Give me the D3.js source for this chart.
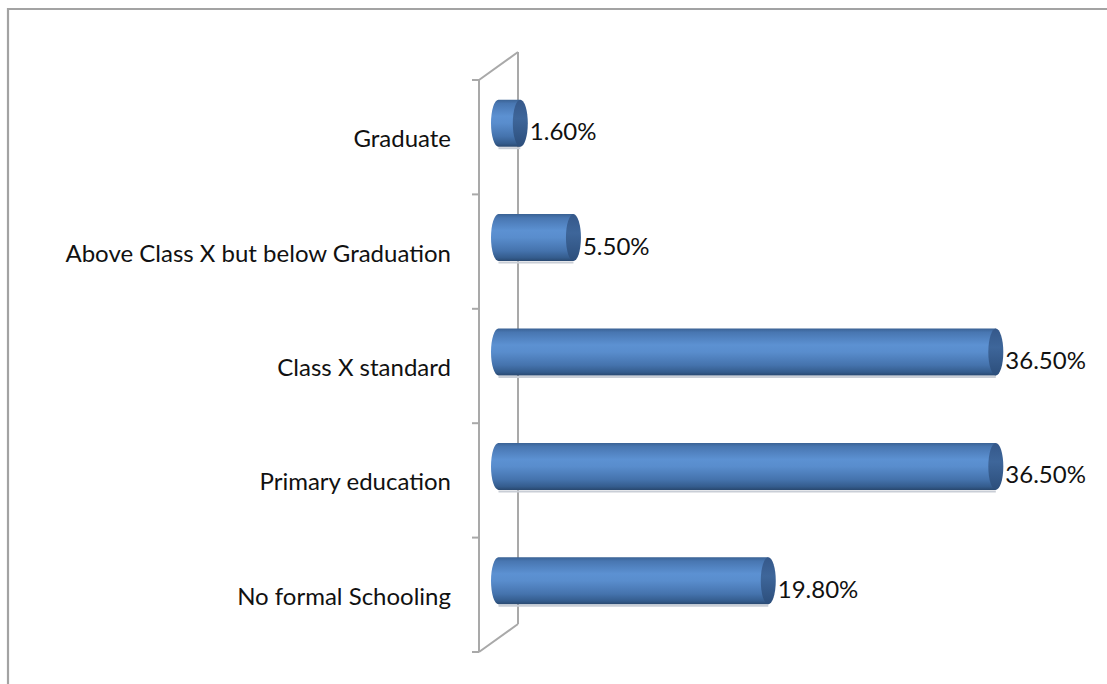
<!DOCTYPE html>
<html>
<head>
<meta charset="utf-8">
<script src="https://cdn.jsdelivr.net/npm/d3@7"></script>
<style>
  html, body { margin: 0; padding: 0; background: #ffffff; }
  svg { display: block; }
  text { font-family: Lato, "Open Sans", sans-serif; fill: #111; }
</style>
</head>
<body>
<svg id="chart" width="1107" height="684"></svg>
<script>
// Education levels, top to bottom
const categories = [
  "Graduate",
  "Above Class X but below Graduation",
  "Class X standard",
  "Primary education",
  "No formal Schooling"
];
// Share of respondents (%)
const values = [1.6, 5.5, 36.5, 36.5, 19.8];
const valueLabels = ["1.60%", "5.50%", "36.50%", "36.50%", "19.80%"];

const svg = d3.select("#chart");
const W = 1107, H = 684;
const fontSize = 24;

// Outer chart frame (top and left edges visible)
svg.append("path")
  .attr("d", `M8,${H + 5} L8,9 L${W + 5},9`)
  .attr("fill", "none")
  .attr("stroke", "#a3a3a3")
  .attr("stroke-width", 2.2);

// Plot geometry: front plane and depth offset of the 3D wall
const front = { x: 479, top: 80, bottom: 652 };
const depth = { dx: 39, dy: -28 };

const x = d3.scaleLinear().domain([0, 40]).range([front.x, front.x + 545]);
const y = d3.scaleBand().domain(categories).range([front.top, front.bottom]).padding(0);

const defs = svg.append("defs");
const bodyGrad = defs.append("linearGradient")
  .attr("id", "cylBody").attr("x1", 0).attr("y1", 0).attr("x2", 0).attr("y2", 1);
[[0, "#3a6294"], [0.08, "#4876b1"], [0.35, "#5c91d2"], [0.5, "#598dcd"],
 [0.78, "#4573ad"], [0.93, "#345c8d"], [1, "#29486f"]]
  .forEach(([o, c]) => bodyGrad.append("stop").attr("offset", o).attr("stop-color", c));

const capGrad = defs.append("linearGradient")
  .attr("id", "cylCap").attr("x1", 0).attr("y1", 0).attr("x2", 0).attr("y2", 1);
[[0, "#35588a"], [0.4, "#3e669a"], [1, "#2c4e7b"]]
  .forEach(([o, c]) => capGrad.append("stop").attr("offset", o).attr("stop-color", c));

// Wall / axis lines
const wallColor = "#a9a9a9";
const wall = svg.append("g")
  .attr("fill", "none")
  .attr("stroke", wallColor)
  .attr("stroke-width", 2);

wall.append("path").attr("d",
  `M${front.x},${front.top} L${front.x},${front.bottom}` +
  ` M${front.x + depth.dx},${front.top + depth.dy} L${front.x + depth.dx},${front.bottom + depth.dy}` +
  ` M${front.x},${front.top} L${front.x + depth.dx},${front.top + depth.dy}` +
  ` M${front.x},${front.bottom} L${front.x + depth.dx},${front.bottom + depth.dy}`);

// Category axis ticks on the front edge
const tickYs = categories.map(c => y(c)).concat([front.bottom]);
wall.selectAll("line.tick")
  .data(tickYs)
  .join("line")
  .attr("class", "tick")
  .attr("x1", front.x - 7).attr("x2", front.x)
  .attr("y1", d => d).attr("y2", d => d);

// Category labels
svg.append("g")
  .selectAll("text")
  .data(categories)
  .join("text")
  .attr("x", 451)
  .attr("y", d => y(d) + y.bandwidth() / 2 + 4)
  .attr("text-anchor", "end")
  .attr("dominant-baseline", "middle")
  .attr("font-size", fontSize)
  .text(d => d);

// Cylinders sit at mid depth
const mid = { dx: depth.dx / 2, dy: depth.dy / 2 };
const ry = 23.5, rx = 7.5;

const bars = svg.append("g")
  .selectAll("g.bar")
  .data(categories.map((c, i) => ({ c, v: values[i], label: valueLabels[i] })))
  .join("g")
  .attr("class", "bar");

const cy = d => y(d.c) + y.bandwidth() / 2 + mid.dy;
const x0 = () => x(0) + mid.dx;
const x1 = d => x(d.v) + mid.dx;

// soft shadow under each cylinder
bars.append("path")
  .attr("d", d => {
    const a = x0(), b = x1(d), c = cy(d);
    return `M${a},${c + ry + 1.5} L${b},${c + ry + 1.5}`;
  })
  .attr("stroke", "#c9ced6")
  .attr("stroke-width", 2)
  .attr("fill", "none");

// body with rounded left end
bars.append("path")
  .attr("d", d => {
    const a = x0(), b = x1(d), c = cy(d);
    return `M${b},${c - ry} L${a},${c - ry}` +
      ` A${rx},${ry} 0 0 0 ${a},${c + ry}` +
      ` L${b},${c + ry} Z`;
  })
  .attr("fill", "url(#cylBody)");

// right end cap
bars.append("ellipse")
  .attr("cx", d => x1(d))
  .attr("cy", d => cy(d))
  .attr("rx", rx)
  .attr("ry", ry)
  .attr("fill", "url(#cylCap)");

// value labels
bars.append("text")
  .attr("x", d => x1(d) + rx + 2)
  .attr("y", d => cy(d) + 11)
  .attr("dominant-baseline", "middle")
  .attr("font-size", fontSize)
  .text(d => d.label);
</script>
</body>
</html>
